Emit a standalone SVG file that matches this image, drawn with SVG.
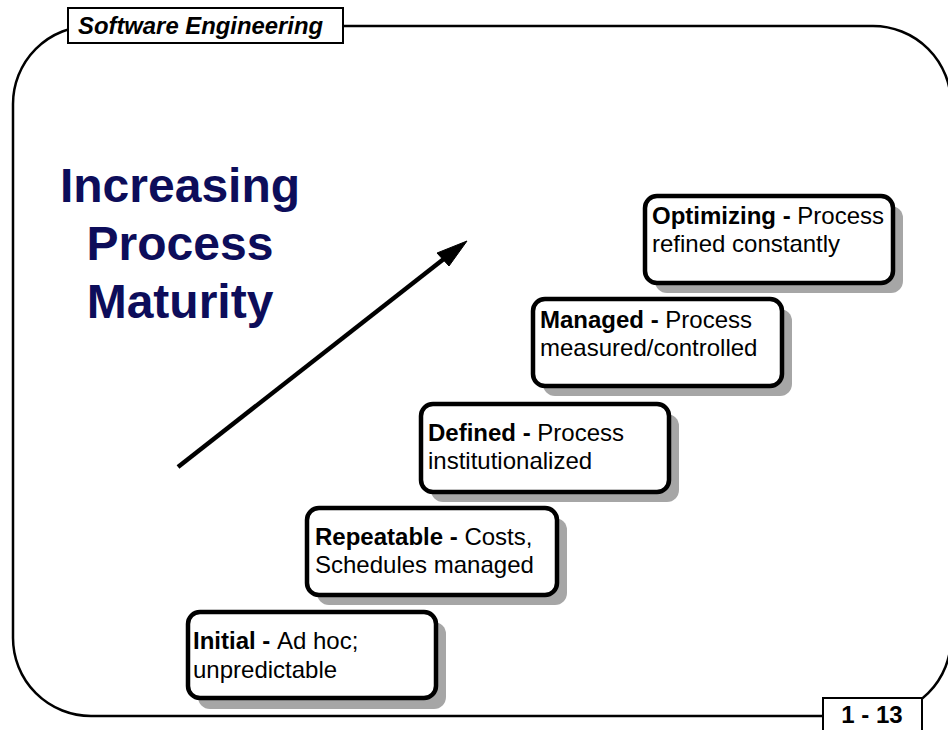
<svg xmlns="http://www.w3.org/2000/svg" width="948" height="730" viewBox="0 0 948 730">
<style>
.frame{fill:none;stroke:#000;stroke-width:2.5}
.lbl{fill:#fff;stroke:#000;stroke-width:2}
.shadow{fill:#a6a6a6}
.box{fill:#fff;stroke:#000;stroke-width:4.5}
.t{font-family:"Liberation Sans",Arial,sans-serif;font-size:24px;fill:#000}
.b{font-weight:bold}
.title{font-family:"Liberation Sans",Arial,sans-serif;font-size:48px;font-weight:bold;fill:#0d0d5a;text-anchor:middle}
</style>
<rect width="948" height="730" fill="#fff"/>
<g id="frame">
<rect class="frame" x="13" y="26" width="938" height="690" rx="78" ry="78"/>
<rect class="lbl" x="68" y="8" width="275" height="35"/>
<text class="t b" x="78" y="34" font-style="italic" font-size="22" textLength="245" lengthAdjust="spacingAndGlyphs">Software Engineering</text>
<rect class="lbl" x="823" y="698" width="99" height="45"/>
<text class="t b" x="872" y="723" text-anchor="middle">1 - 13</text>
</g>
<g id="title">
<text class="title" x="180" y="202">Increasing</text>
<text class="title" x="180" y="260">Process</text>
<text class="title" x="180" y="318">Maturity</text>
</g>
<g id="connectors">
<line x1="178" y1="467" x2="445" y2="258" stroke="#000" stroke-width="4.5"/>
<polygon points="467,241 437,253 449,266" fill="#000" stroke="#000" stroke-width="1"/>
</g>
<g id="initial">
<rect class="shadow" x="198" y="622" width="248" height="87" rx="12"/>
<rect class="box" x="188" y="612" width="248" height="86" rx="12"/>
<text class="t" x="193" y="649"><tspan class="b">Initial - </tspan>Ad hoc;</text>
<text class="t" x="193" y="678">unpredictable</text>
</g>
<g id="repeatable">
<rect class="shadow" x="317" y="518" width="250" height="87" rx="12"/>
<rect class="box" x="307" y="508" width="250" height="87" rx="12"/>
<text class="t" x="315" y="545"><tspan class="b">Repeatable - </tspan>Costs,</text>
<text class="t" x="315" y="573">Schedules managed</text>
</g>
<g id="defined">
<rect class="shadow" x="431" y="414" width="248" height="88" rx="12"/>
<rect class="box" x="421" y="404" width="248" height="88" rx="12"/>
<text class="t" x="428" y="441"><tspan class="b">Defined - </tspan>Process</text>
<text class="t" x="428" y="469">institutionalized</text>
</g>
<g id="managed">
<rect class="shadow" x="543" y="309" width="249" height="87" rx="12"/>
<rect class="box" x="533" y="299" width="249" height="87" rx="12"/>
<text class="t" x="540" y="328"><tspan class="b">Managed - </tspan>Process</text>
<text class="t" x="540" y="356">measured/controlled</text>
</g>
<g id="optimizing">
<rect class="shadow" x="655" y="206" width="248" height="87" rx="12"/>
<rect class="box" x="645" y="196" width="248" height="87" rx="12"/>
<text class="t" x="652" y="224"><tspan class="b">Optimizing - </tspan>Process</text>
<text class="t" x="652" y="252">refined constantly</text>
</g>
</svg>
